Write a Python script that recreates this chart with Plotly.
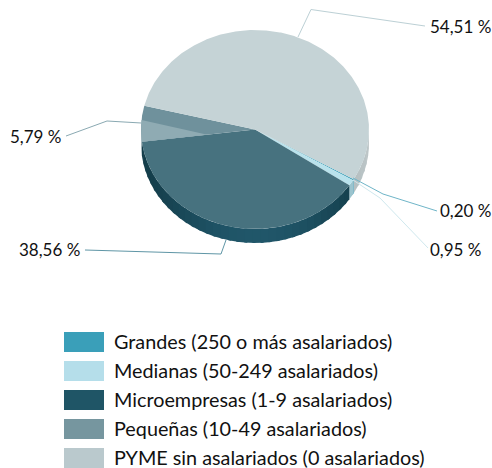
import numpy as np
import plotly.graph_objects as go

W, H = 492, 468
categories = ["Grandes (250 o más asalariados)", "Medianas (50-249 asalariados)",
              "Microempresas (1-9 asalariados)", "Pequeñas (10-49 asalariados)",
              "PYME sin asalariados (0 asalariados)"]
values = [0.20, 0.95, 38.56, 5.79, 54.51]
labels = ["0,20 %", "0,95 %", "38,56 %", "5,79 %", "54,51 %"]
legend_colors = ["#3a9fb9", "#b5deea", "#1f5566", "#76969f", "#bac9cd"]
top_colors = ["#3a9fb9", "#b9e2ec", "#47727f", "#6f919c", "#c5d3d6"]
side_dark = ["#3a9fb9", "#9cc4ce", "#143d4a", "#5b7c86", "#b6c0c2"]
side_light = ["#3a9fb9", "#9cc4ce", "#205669", "#5b7c86", "#c0c9cb"]
leader_colors = ["#6fb5c8", "#cfe8ee", "#5f96a6", "#8aa9b2", "#bcd0d5"]

CX, CY, RX, RY, DEPTH = 255, 129.5, 114, 99.5, 14
FONT = "Lato"

fig = go.Figure()
start = -30.0
angles = [start]
for v in values:
    angles.append(angles[-1] - v / sum(values) * 360)
depth = DEPTH / RY
t = lambda a: np.radians(a)


def poly(x, y, color):
    fig.add_trace(go.Scatter(x=x, y=y, mode="lines", fill="toself", fillcolor=color,
                             line=dict(color=color, width=0), hoverinfo="skip", showlegend=False))


def mix(c1, c2, f):
    a = [int(c1[i:i + 2], 16) for i in (1, 3, 5)]
    b = [int(c2[i:i + 2], 16) for i in (1, 3, 5)]
    return "#%02x%02x%02x" % tuple(round(p + (q - p) * f) for p, q in zip(a, b))


# side wall, only the part of each slice that faces the viewer
for i in range(len(values)):
    a0, a1 = angles[i] % 360, angles[i + 1] % 360
    if a1 > a0:
        a0 += 360
    lo, hi = max(a1, 180), min(a0, 360)
    if i == 4:
        lo, hi = 330, 360
    if hi <= lo:
        continue
    n = max(1, int((hi - lo) / 4))
    edges = np.linspace(lo, hi, n + 1)
    for e0, e1 in zip(edges[:-1], edges[1:]):
        # each strip runs under the next one so no seam shows
        s = np.linspace(e0, min(e1 + 1.5, hi), 6)
        xs = np.cos(t(s))
        ys = np.sin(t(s))
        f = abs(np.cos(t((e0 + e1) / 2 - 270))) if i != 4 else (e0 - 330) / 30
        col = mix(side_dark[i], side_light[i], f ** 3 if i != 4 else f)
        poly(np.r_[xs, xs[::-1]], np.r_[ys, ys[::-1] - depth], col)

# top faces
for i in range(len(values)):
    s = np.linspace(angles[i], angles[i + 1], max(3, int(abs(angles[i + 1] - angles[i]) * 2)))
    poly(np.r_[0, np.cos(t(s)), 0], np.r_[0, np.sin(t(s)), 0], top_colors[i])

# lighter wedge inside the Pequeñas slice
a_low = angles[3]
s = np.linspace(a_low, a_low - 12.5, 12)
poly(np.r_[0.42 * np.cos(t(a_low)), np.cos(t(s))],
     np.r_[0.42 * np.sin(t(a_low)), np.sin(t(s))], "#8fabb3")

# leaders (pixel polylines) and labels
leaders = [
    [(353, 178), (383, 194), (437, 211)],
    [(353, 180), (380, 198), (428, 248)],
    [(85, 250), (221, 254), (226, 240)],
    [(66, 136), (107, 121), (141, 123)],
    [(298, 37), (311, 9.5), (425, 26)],
]
label_pos = [(440, 211), (430, 249), (19, 249), (10, 136), (430, 26)]
shapes = []
annots = []
px = lambda x: x / W
py = lambda y: 1 - y / H
for pts, col in zip(leaders, leader_colors):
    d = "M " + " L ".join(f"{px(a):.5f},{py(b):.5f}" for a, b in pts)
    shapes.append(dict(type="path", xref="paper", yref="paper", path=d,
                       line=dict(color=col, width=1), layer="above"))
for (x, y), text in zip(label_pos, labels):
    annots.append(dict(x=px(x), y=py(y), xref="paper", yref="paper", text=text, showarrow=False,
                       xanchor="left", yanchor="middle", borderpad=0, borderwidth=0,
                       font=dict(family=FONT, size=17, color="#111111")))

# legend
for i, (name, col) in enumerate(zip(categories, legend_colors)):
    y0 = 332 + 29 * i
    shapes.append(dict(type="rect", xref="paper", yref="paper", x0=px(64), x1=px(104),
                       y0=py(y0), y1=py(y0 + 20), fillcolor=col, line=dict(width=0)))
    annots.append(dict(x=px(114), y=py(y0 + 8.5), xref="paper", yref="paper", text=name,
                       showarrow=False, xanchor="left", yanchor="middle", borderpad=0, borderwidth=0,
                       font=dict(family=FONT, size=19.8, color="#111111")))

fig.update_layout(
    width=W, height=H, autosize=False, margin=dict(l=0, r=0, t=0, b=0),
    paper_bgcolor="white", plot_bgcolor="white", showlegend=False,
    xaxis=dict(range=[(0 - CX) / RX, (W - CX) / RX], visible=False, fixedrange=True),
    yaxis=dict(range=[(CY - H) / RY, CY / RY], visible=False, fixedrange=True),
    shapes=shapes, annotations=annots,
)
fig.write_html("out.html", config={"displayModeBar": False},
               post_script="document.body.style.margin='0';document.body.style.overflow='hidden';")
